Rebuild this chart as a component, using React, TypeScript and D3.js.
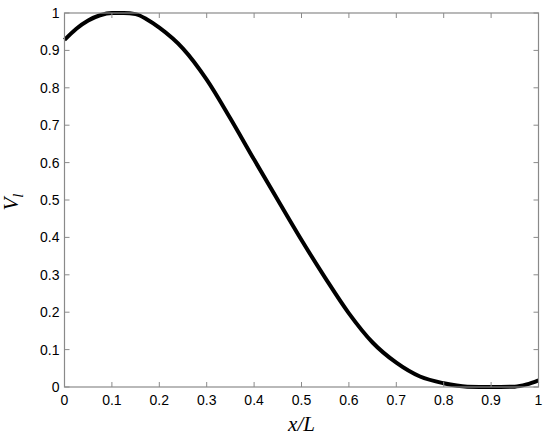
import React from "react";
import * as d3 from "d3";

// x/L positions and V_l values
const xPos = [0, 0.025, 0.05, 0.075, 0.1, 0.125, 0.15, 0.175, 0.2, 0.25, 0.3, 0.35, 0.4, 0.45, 0.5, 0.55, 0.6, 0.65, 0.7, 0.75, 0.8, 0.85, 0.9, 0.95, 0.975, 1];
const vVals = [0.928, 0.958, 0.980, 0.994, 1.0, 1.0, 0.997, 0.982, 0.961, 0.905, 0.822, 0.718, 0.608, 0.500, 0.393, 0.292, 0.197, 0.119, 0.065, 0.028, 0.010, 0.001, 0.0, 0.001, 0.007, 0.018];

const xTicks = [0, 0.1, 0.2, 0.3, 0.4, 0.5, 0.6, 0.7, 0.8, 0.9, 1];
const yTicks = [0, 0.1, 0.2, 0.3, 0.4, 0.5, 0.6, 0.7, 0.8, 0.9, 1];

const W = 550;
const H = 437;
const margin = { top: 13, right: 11.5, bottom: 50, left: 64.5 };

export default function App() {
  const x = d3.scaleLinear().domain([0, 1]).range([margin.left, W - margin.right]);
  const y = d3.scaleLinear().domain([0, 1]).range([H - margin.bottom, margin.top]);

  const line = d3
    .line<number>()
    .x((d, i) => x(xPos[i]))
    .y((d) => y(d))
    .curve(d3.curveMonotoneX);

  const axisColor = "#8a8a8a";
  const tickLen = 5;
  const x0 = x(0), x1 = x(1), y0 = y(0), y1 = y(1);
  const fmt = (v: number) => (v === 0 || v === 1 ? String(v) : v.toFixed(1));

  return (
    <svg width={W} height={H} style={{ position: "absolute", left: 0, top: 0, background: "#fff" }}>
      {/* curve */}
      <path d={line(vVals) || ""} fill="none" stroke="#000" strokeWidth={4} strokeLinejoin="round" />

      {/* box */}
      <rect x={x0} y={y1} width={x1 - x0} height={y0 - y1} fill="none" stroke={axisColor} strokeWidth={1.2} />

      {/* x ticks, inward top and bottom */}
      {xTicks.map((t) => (
        <g key={"x" + t}>
          <line x1={x(t)} x2={x(t)} y1={y0} y2={y0 - tickLen} stroke={axisColor} />
          <line x1={x(t)} x2={x(t)} y1={y1} y2={y1 + tickLen} stroke={axisColor} />
          <text x={x(t)} y={y0 + 18} textAnchor="middle" fontFamily="Liberation Sans, Arial, sans-serif" fontSize={14} fill="#000">
            {fmt(t)}
          </text>
        </g>
      ))}

      {/* y ticks, inward left and right */}
      {yTicks.map((t) => (
        <g key={"y" + t}>
          <line x1={x0} x2={x0 + tickLen} y1={y(t)} y2={y(t)} stroke={axisColor} />
          <line x1={x1} x2={x1 - tickLen} y1={y(t)} y2={y(t)} stroke={axisColor} />
          <text x={x0 - 5} y={y(t)} dy="0.36em" textAnchor="end" fontFamily="Liberation Sans, Arial, sans-serif" fontSize={14} fill="#000">
            {fmt(t)}
          </text>
        </g>
      ))}

      {/* axis titles */}
      <text x={(x0 + x1) / 2} y={431} textAnchor="middle" fontFamily="Liberation Serif, Times New Roman, serif" fontStyle="italic" fontSize={21} fill="#000">
        x/L
      </text>
      <text transform={`translate(18,${(y0 + y1) / 2 + 2}) rotate(-90)`} textAnchor="middle" fontFamily="Liberation Serif, Times New Roman, serif" fontStyle="italic" fontSize={21} fill="#000">
        V<tspan fontSize={15} dy={5}>l</tspan>
      </text>
    </svg>
  );
}
